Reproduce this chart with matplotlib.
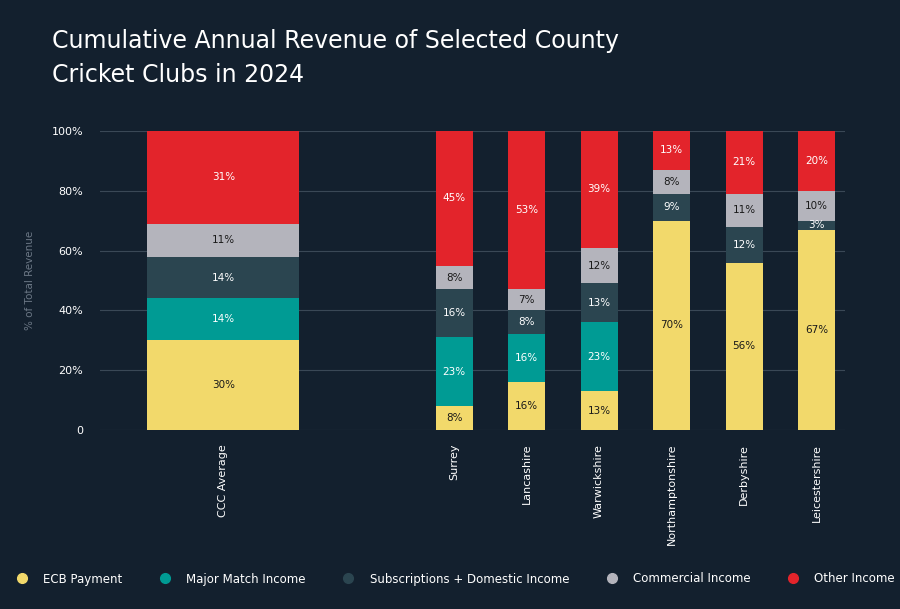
import matplotlib
matplotlib.use("Agg")
import matplotlib.pyplot as plt
from matplotlib.lines import Line2D

# ── Data ─────────────────────────────────────────────────────────────────────
clubs = ["CCC Average", "Surrey", "Lancashire", "Warwickshire",
         "Northamptonshire", "Derbyshire", "Leicestershire"]
series = ["ECB Payment", "Major Match Income", "Subscriptions + Domestic Income",
          "Commercial Income", "Other Income"]
ecb = [30, 8, 16, 13, 70, 56, 67]
major = [14, 23, 16, 23, 0, 0, 0]
subs = [14, 16, 8, 13, 9, 12, 3]
commercial = [11, 8, 7, 12, 8, 11, 10]
other = [31, 45, 53, 39, 13, 21, 20]

BG = "#13202e"
colors = ["#f2d96b", "#009b94", "#2b4550", "#b4b4bc", "#e3242b"]
text_cols = ["#1a1a1a", "white", "white", "#1a1a1a", "white"]

xpos = [-3.18, 0, 1, 2, 3, 4, 5]
widths = [2.1] + [0.51] * 6

fig = plt.figure(figsize=(9, 6.09), dpi=100, facecolor=BG)
ax = fig.add_axes([100 / 900, 1 - 430 / 609, 745 / 900, 299 / 609])
ax.set_facecolor(BG)

bottom = [0] * len(clubs)
for vals, c, tc in zip([ecb, major, subs, commercial, other], colors, text_cols):
    ax.bar(xpos, vals, width=widths, bottom=bottom, color=c, zorder=3)
    for x, v, b in zip(xpos, vals, bottom):
        if v > 0:
            ax.text(x, b + v / 2, f"{v}%", ha="center", va="center",
                    color=tc, fontsize=7.5, zorder=4)
    bottom = [b + v for b, v in zip(bottom, vals)]

ax.set_xlim(-4.88, 5.39)
ax.set_ylim(0, 100)
ax.set_yticks(range(0, 101, 20))
ax.set_yticklabels(["0"] + [f"{v}%" for v in range(20, 101, 20)])
ax.grid(axis="y", color="#3a4856", linewidth=0.8, zorder=0)
ax.set_xticks(xpos)
ax.set_xticklabels(clubs, rotation=90, color="white", fontsize=8)
ax.tick_params(axis="both", length=0, pad=12, colors="white", labelsize=8)
ax.tick_params(axis="x", pad=10)
for s in ax.spines.values():
    s.set_visible(False)
ax.set_ylabel("% of Total Revenue", color="#6b7785", fontsize=7.5, labelpad=12)

fig.text(52 / 900, 1 - 58 / 609, "Cumulative Annual Revenue of Selected County\nCricket Clubs in 2024",
         color="white", fontsize=17, va="center", ha="left", linespacing=1.55)

handles = [Line2D([], [], marker="o", linestyle="none", markersize=7,
                  markerfacecolor=c, markeredgecolor=c) for c in colors]
fig.legend(handles, series, loc="center", bbox_to_anchor=(0.503, 1 - 579 / 609),
           ncol=5, frameon=False, labelcolor="white", fontsize=8.5,
           handletextpad=0.8, columnspacing=2.6)

fig.savefig("out.png", dpi=100, facecolor=BG)
